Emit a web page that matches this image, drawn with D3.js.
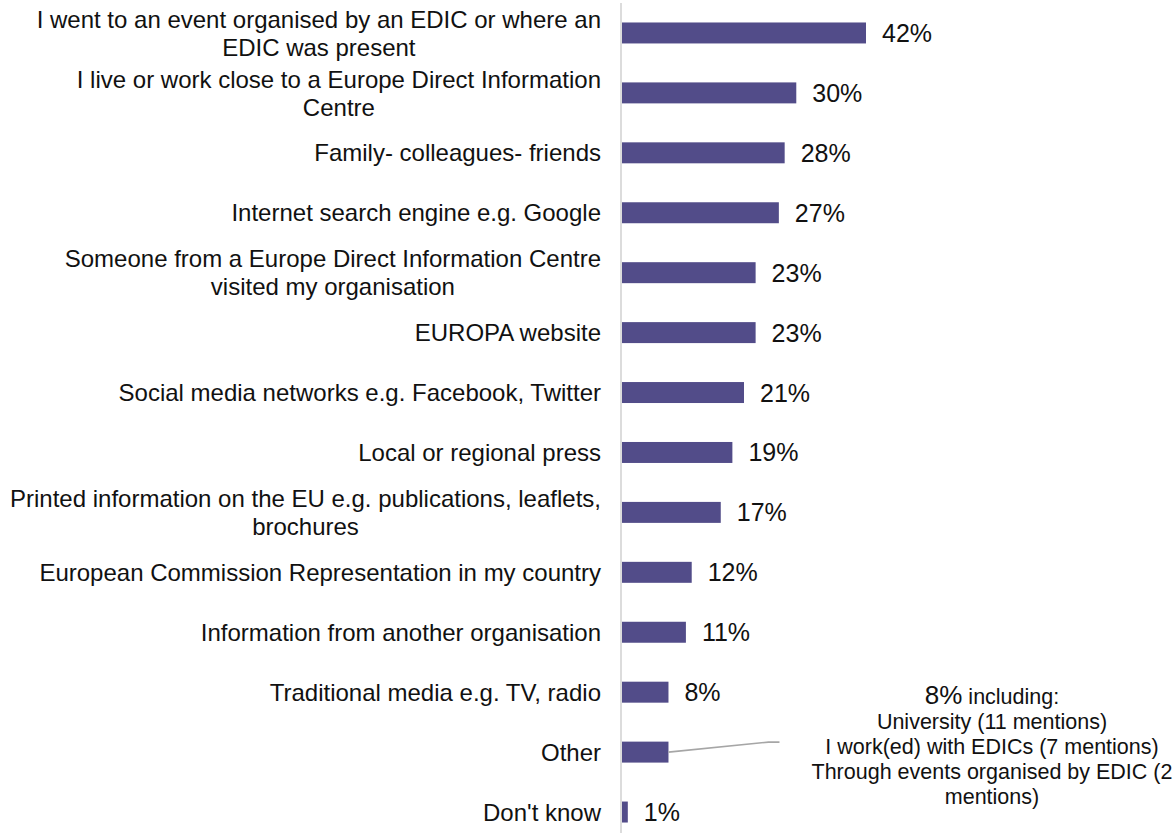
<!DOCTYPE html>
<html>
<head>
<meta charset="utf-8">
<script src="https://cdn.jsdelivr.net/npm/d3@7"></script>
<style>
  html, body { margin: 0; padding: 0; background: #ffffff; }
  svg { display: block; font-family: Arial, "Liberation Sans", sans-serif; }
</style>
</head>
<body>
<svg id="chart" width="1175" height="836"></svg>
<script>
// ---- data ----
const categories = [
  "I went to an event organised by an EDIC or where an|EDIC was present",
  "I live or work close to a Europe Direct Information|Centre",
  "Family- colleagues- friends",
  "Internet search engine e.g. Google",
  "Someone from a Europe Direct Information Centre|visited my organisation",
  "EUROPA website",
  "Social media networks e.g. Facebook, Twitter",
  "Local or regional press",
  "Printed information on the EU e.g. publications, leaflets,|brochures",
  "European Commission Representation in my country",
  "Information from another organisation",
  "Traditional media e.g. TV, radio",
  "Other",
  "Don't know"
];
const values = [42, 30, 28, 27, 23, 23, 21, 19, 17, 12, 11, 8, 8, 1];
const showValueLabel = [true, true, true, true, true, true, true, true, true, true, true, true, false, true];
const otherNoteHead = ["8%", " including:"];
const otherNoteLines = [
  "University (11 mentions)",
  "I work(ed) with EDICs (7 mentions)",
  "Through events organised by EDIC (2",
  "mentions)"
];

// ---- layout ----
const svg = d3.select("#chart");
const x0 = 622;
const x = d3.scaleLinear().domain([0, 42]).range([x0, 866]);
const y = d3.scaleBand().domain(categories).range([3, 842]).paddingInner(0.65).paddingOuter(0.325);
const barColor = "#524c89";

// axis line
svg.append("line")
  .attr("x1", x0 - 1).attr("x2", x0 - 1)
  .attr("y1", 3).attr("y2", 833)
  .attr("stroke", "#d4d4d4").attr("stroke-width", 1.6);

// bars
svg.selectAll("rect.bar").data(categories).join("rect")
  .attr("class", "bar")
  .attr("x", x(0))
  .attr("y", d => y(d))
  .attr("width", (d, i) => x(values[i]) - x(0))
  .attr("height", y.bandwidth())
  .attr("fill", barColor);

// value labels
svg.selectAll("text.val").data(categories.filter((d, i) => showValueLabel[i])).join("text")
  .attr("class", "val")
  .attr("x", d => x(values[categories.indexOf(d)]) + 16)
  .attr("y", d => y(d) + y.bandwidth() / 2)
  .attr("dy", "0.36em")
  .attr("font-size", "25px")
  .attr("fill", "#111")
  .text(d => values[categories.indexOf(d)] + "%");

// category labels (right aligned block, lines centred within block)
const labelRight = 601;
const lineH = 28;
categories.forEach((c, i) => {
  const lines = c.split("|");
  const g = svg.append("g");
  const cy = y(c) + y.bandwidth() / 2;
  const texts = lines.map((ln, j) => g.append("text")
    .attr("y", cy + (j - (lines.length - 1) / 2) * lineH)
    .attr("dy", "0.36em")
    .attr("font-size", "24px")
    .attr("fill", "#111")
    .attr("text-anchor", "middle")
    .text(ln));
  const maxW = d3.max(texts, t => t.node().getComputedTextLength());
  texts.forEach(t => t.attr("x", labelRight - maxW / 2));
});

// annotation for "Other"
const otherIdx = categories.indexOf("Other");
const oc = categories[otherIdx];
const oy = y(oc) + y.bandwidth() / 2;
const ox = x(values[otherIdx]);
svg.append("path")
  .attr("d", `M${ox},${oy} L${ox + 100},${oy - 10} L${ox + 111},${oy - 10}`)
  .attr("fill", "none")
  .attr("stroke", "#a6a6a6")
  .attr("stroke-width", 1.6);

const noteX = 992;
const noteTop = 704;
const noteLH = 25;
const head = svg.append("text")
  .attr("x", noteX).attr("y", noteTop)
  .attr("text-anchor", "middle")
  .attr("fill", "#111");
head.append("tspan").attr("font-size", "26px").text(otherNoteHead[0]);
head.append("tspan").attr("font-size", "21.5px").text(otherNoteHead[1]);
otherNoteLines.forEach((ln, j) => {
  svg.append("text")
    .attr("x", noteX).attr("y", noteTop + (j + 1) * noteLH)
    .attr("text-anchor", "middle")
    .attr("font-size", "21.5px")
    .attr("fill", "#111")
    .text(ln);
});
</script>
</body>
</html>
